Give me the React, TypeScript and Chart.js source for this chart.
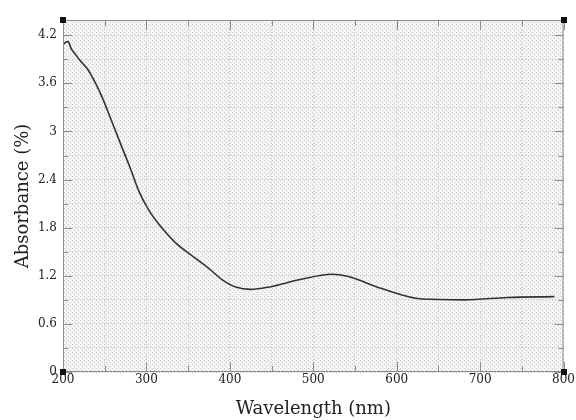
import React, { useEffect, useRef } from "react";
import { Chart, registerables } from "chart.js";

Chart.register(...registerables);

const wavelengths = [200, 203, 206, 210, 215, 220, 230, 240, 248, 256, 270, 280, 292, 304, 316, 336, 356, 375, 391, 407, 425, 447, 483, 522, 542, 582, 630, 682, 733, 789];
const absorbance = [4.08, 4.11, 4.12, 4.03, 3.96, 3.89, 3.77, 3.58, 3.4, 3.19, 2.82, 2.56, 2.23, 2.0, 1.83, 1.6, 1.44, 1.29, 1.15, 1.06, 1.03, 1.06, 1.15, 1.22, 1.19, 1.04, 0.91, 0.9, 0.93, 0.94];

const xTitle = "Wavelength (nm)";
const yTitle = "Absorbance (%)";
const xMin = 200;
const xMax = 800;
const xStep = 50;
const yMin = 0;
const yMax = 4.39;
const yStep = 0.3;

const makePattern = (ctx: CanvasRenderingContext2D) => {
  const c = document.createElement("canvas");
  c.width = 4;
  c.height = 4;
  const p = c.getContext("2d")!;
  p.fillStyle = "#f4f4f4";
  p.fillRect(0, 0, 4, 4);
  p.fillStyle = "#cacaca";
  p.fillRect(0, 0, 1, 1);
  p.fillRect(2, 2, 1, 1);
  return ctx.createPattern(c, "repeat");
};

const framePlugin = {
  id: "framePlugin",
  beforeDraw(chart: any) {
    const { ctx, chartArea: a } = chart;
    ctx.save();
    ctx.fillStyle = makePattern(ctx) || "#eee";
    ctx.fillRect(a.left, a.top, a.right - a.left, a.bottom - a.top);
    ctx.restore();
  },
  afterDraw(chart: any) {
    const { ctx, chartArea: a } = chart;
    const xs = chart.scales.x;
    const ys = chart.scales.y;
    ctx.save();
    ctx.strokeStyle = "#8c8c8c";
    ctx.lineWidth = 1;
    ctx.strokeRect(a.left + 0.5, a.top + 0.5, a.right - a.left - 1, a.bottom - a.top - 1);
    ctx.beginPath();
    xs.ticks.forEach((t: any) => {
      const px = Math.round(xs.getPixelForValue(t.value)) + 0.5;
      const major = Math.round(t.value) % 100 === 0;
      const len = major ? 10 : 6;
      ctx.moveTo(px, a.bottom);
      ctx.lineTo(px, a.bottom - len);
      ctx.moveTo(px, a.top);
      ctx.lineTo(px, a.top + len);
    });
    ys.ticks.forEach((t: any) => {
      const py = Math.round(ys.getPixelForValue(t.value)) + 0.5;
      const major = Math.round(t.value / yStep) % 2 === 0;
      const len = major ? 9 : 5;
      ctx.moveTo(a.left, py);
      ctx.lineTo(a.left + len, py);
      ctx.moveTo(a.right, py);
      ctx.lineTo(a.right - len, py);
    });
    ctx.stroke();
    ctx.fillStyle = "#111";
    const s = 6;
    [[a.left, a.top], [a.right, a.top], [a.left, a.bottom], [a.right, a.bottom]].forEach(([x, y]) => {
      ctx.fillRect(Math.round(x - s / 2), Math.round(y - s / 2), s, s);
    });
    ctx.restore();
  },
};

export default function App() {
  const ref = useRef<HTMLCanvasElement>(null);
  useEffect(() => {
    const canvas = ref.current!;
    const chart = new Chart(canvas, {
      type: "line",
      data: {
        datasets: [
          {
            data: wavelengths.map((w, i) => ({ x: w, y: absorbance[i] })),
            borderColor: "#333333",
            borderWidth: 1.6,
            pointRadius: 0,
            tension: 0.4,
            cubicInterpolationMode: "monotone",
            fill: false,
          },
        ],
      },
      options: {
        animation: false,
        responsive: false,
        maintainAspectRatio: false,
        layout: { padding: { top: 20, right: 10, left: 0, bottom: 0 } },
        plugins: { legend: { display: false }, tooltip: { enabled: false } },
        scales: {
          x: {
            type: "linear",
            min: xMin,
            max: xMax,
            afterFit: (s: any) => {
              s.height = 48;
            },
            ticks: {
              stepSize: xStep,
              autoSkip: false,
              maxRotation: 0,
              padding: 1,
              color: "#222",
              font: { family: "DejaVu Serif", size: 12 },
              callback: (v: any) => (Math.round(v) % 100 === 0 ? String(Math.round(v)) : ""),
            },
            grid: { color: "#c6c6c6", drawTicks: false, lineWidth: 1 },
            border: { display: false, dash: [1, 2] },
            title: {
              display: true,
              text: xTitle,
              color: "#222",
              font: { family: "DejaVu Serif", size: 18 },
              padding: { top: 0, bottom: 0 },
            },
          },
          y: {
            type: "linear",
            min: yMin,
            max: yMax,
            afterFit: (s: any) => {
              s.width = 63;
            },
            ticks: {
              stepSize: yStep,
              includeBounds: false,
              autoSkip: false,
              padding: 6,
              color: "#222",
              font: { family: "DejaVu Serif", size: 12 },
              callback: (v: any) => {
                const k = Math.round(v / yStep);
                if (k % 2 !== 0) return "";
                return String(Math.round(k * yStep * 10) / 10);
              },
            },
            grid: { color: "#c6c6c6", drawTicks: false, lineWidth: 1 },
            border: { display: false, dash: [1, 2] },
            title: {
              display: true,
              text: yTitle,
              color: "#222",
              font: { family: "DejaVu Serif", size: 18 },
              padding: { top: 13, bottom: 0 },
            },
          },
        },
      },
      plugins: [framePlugin],
    } as any);
    return () => chart.destroy();
  }, []);
  return (
    <div style={{ position: "fixed", left: 0, top: 0, width: 576, height: 420, background: "#fff" }}>
      <canvas ref={ref} width={576} height={420} style={{ width: 576, height: 420, display: "block" }} />
    </div>
  );
}
